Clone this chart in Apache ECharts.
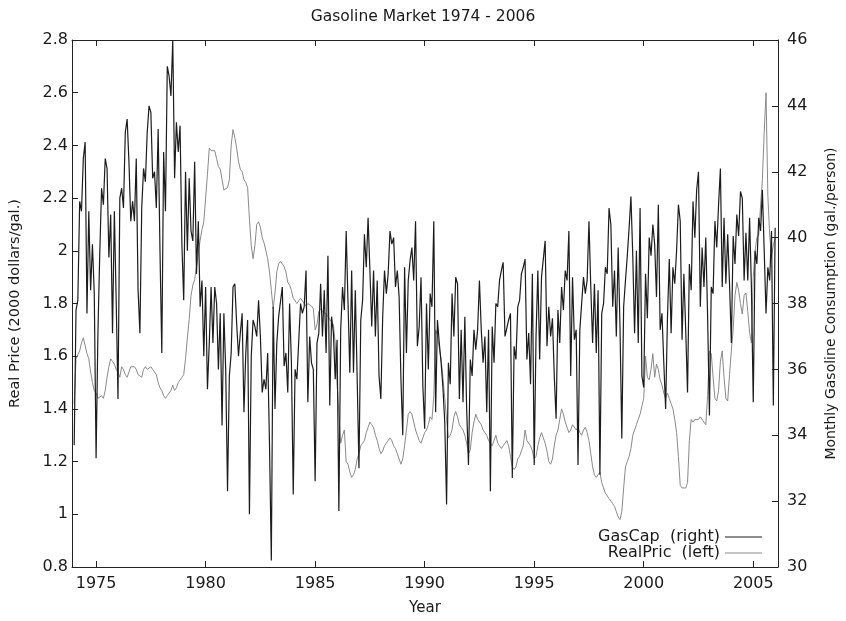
<!DOCTYPE html>
<html>
<head>
<meta charset="utf-8">
<title>Gasoline Market 1974 - 2006</title>
<script src="https://cdn.jsdelivr.net/npm/echarts@6/dist/echarts.min.js"></script>
<style>
html,body{margin:0;padding:0;background:#fff;}
#chart{width:846px;height:621px;}
</style>
</head>
<body>
<div id="chart"></div>
<script>
// monthly series, first value = Jan 1974
const startYear = 1974;
const yearTicks = [1975, 1980, 1985, 1990, 1995, 2000, 2005];
const legendNames = ['GasCap  (right)', 'RealPric  (left)'];

// GasCap (gal./person), right axis
const gasCap = [
  33.7, 37.8, 38.1, 41.1, 40.8, 42.4, 42.9, 37.7, 40.8, 38.4, 39.8, 38.3,
  33.3, 37.1, 39.5, 41.5, 41.0, 42.4, 42.1, 39.4, 40.7, 37.1, 40.8, 38.1,
  35.1, 41.2, 41.5, 40.9, 43.2, 43.6, 42.3, 40.5, 41.1, 40.5, 42.4, 38.4,
  37.1, 40.9, 42.1, 41.7, 43.2, 44.0, 43.8, 41.8, 42.0, 40.9, 43.3, 39.6,
  36.5, 42.6, 40.8, 45.2, 44.9, 44.3, 46.0, 41.8, 43.5, 42.6, 43.4, 39.8,
  38.1, 42.0, 39.6, 41.8, 40.2, 39.9, 42.3, 38.9, 40.5, 37.9, 38.7, 36.4,
  38.5, 35.4, 36.8, 38.5, 36.8, 38.5, 38.0, 36.0, 37.7, 34.3, 37.7, 36.0,
  32.3, 35.8, 36.5, 38.5, 38.6, 37.4, 36.4, 37.1, 37.7, 34.7, 36.5, 37.5,
  31.6, 36.4, 37.5, 37.3, 37.0, 38.1, 37.0, 35.3, 35.7, 35.4, 36.5, 33.7,
  30.2, 37.9, 34.8, 36.8, 37.6, 37.6, 38.5, 36.1, 36.5, 35.3, 38.0, 36.2,
  32.2, 36.0, 35.7, 35.7, 38.0, 37.7, 37.9, 39.0, 35.0, 37.0, 36.2, 36.0,
  32.6, 36.8, 37.1, 38.6, 37.0, 38.4, 36.5, 39.45, 34.9, 37.6, 37.1, 35.7,
  36.9, 31.7, 37.2, 38.5, 37.8, 40.2, 40.2, 35.9, 39.0, 35.9, 38.4, 35.8,
  33.0, 37.5, 38.1, 40.1, 39.1, 40.6, 39.0, 37.3, 39.0, 37.0, 38.7, 35.8,
  35.1, 37.6, 39.0, 38.3, 38.9, 40.2, 39.8, 40.0, 38.5, 39.0, 38.2, 35.7,
  34.0, 39.1, 36.5, 38.7, 39.3, 39.7, 38.7, 40.5, 36.7, 37.3, 38.8, 35.5,
  34.2, 38.0, 36.0, 38.3, 37.9, 40.5, 34.7, 37.5, 36.8, 36.2, 35.45, 34.4,
  31.9, 36.2, 35.55, 38.3, 37.0, 38.8, 38.6, 35.1, 37.2, 35.0, 37.6, 34.8,
  33.1, 36.3, 35.8, 37.2, 36.6, 37.2, 38.7, 37.2, 36.2, 37.0, 34.7, 37.2,
  32.3, 37.3, 36.2, 38.0, 37.9, 38.7, 39.0, 39.25, 37.0, 37.0, 37.5, 37.7,
  32.7, 36.7, 36.3, 37.9, 38.1, 38.9, 39.1, 39.35, 36.3, 37.1, 35.55, 38.9,
  33.1, 37.0, 39.0, 36.3, 38.8, 38.8, 39.9, 36.7, 37.9, 37.0, 37.55, 35.8,
  34.5, 37.8, 36.8, 38.5, 37.8, 39.0, 38.7, 40.2, 35.8, 38.8, 36.9, 37.2,
  33.1, 37.2, 37.2, 38.8, 38.3, 38.7, 40.5, 38.5, 36.8, 38.6, 36.5, 38.4,
  32.8, 37.7, 38.0, 39.1, 38.9, 40.9, 40.4, 37.9, 39.0, 37.0, 39.7, 37.3,
  33.9, 37.9, 38.7, 39.45, 40.3, 41.25, 39.45, 37.1, 39.6, 36.8, 40.9, 35.8,
  35.45, 38.9, 37.55, 40.0, 39.45, 40.4, 39.8, 38.2, 41.0, 37.2, 37.7, 36.2,
  34.8, 37.55, 39.35, 37.1, 39.1, 38.6, 39.6, 41.0, 40.5, 36.9, 38.9, 37.2,
  35.3, 39.2, 38.4, 41.1, 40.0, 41.45, 42.0, 37.9, 39.7, 38.5, 40.0, 37.6,
  34.6, 38.5, 38.3, 40.5, 39.7, 41.0, 42.1, 38.5, 40.6, 38.6, 40.1, 38.6,
  36.8, 40.05, 39.2, 40.7, 40.05, 41.4, 41.2, 38.7, 40.15, 38.7, 40.6, 38.5,
  35.0, 39.6, 39.2, 40.6, 40.2, 41.45, 39.6, 37.7, 39.1, 38.7, 40.2, 34.9,
  40.3
];

// RealPric (2000 dollars/gal.), left axis
const realPric = [
  1.42, 1.59, 1.59, 1.62, 1.65, 1.67, 1.64, 1.61, 1.59, 1.54, 1.50, 1.47,
  1.46, 1.44, 1.44, 1.45, 1.44, 1.47, 1.52, 1.56, 1.59, 1.58, 1.57, 1.55,
  1.54, 1.52, 1.56, 1.55, 1.53, 1.52, 1.54, 1.56, 1.56, 1.56, 1.55, 1.53,
  1.53, 1.52, 1.55, 1.56, 1.55, 1.55, 1.56, 1.56, 1.54, 1.53, 1.50, 1.48,
  1.47, 1.45, 1.44, 1.45, 1.46, 1.47, 1.49, 1.47, 1.48, 1.50, 1.50, 1.52,
  1.53, 1.59, 1.67, 1.74, 1.83, 1.87, 1.89, 1.94, 1.99, 2.04, 2.08, 2.11,
  2.20, 2.29, 2.39, 2.38, 2.38, 2.38, 2.35, 2.32, 2.31, 2.27, 2.23, 2.23,
  2.24, 2.27, 2.40, 2.46, 2.43, 2.39, 2.34, 2.31, 2.30, 2.27, 2.26, 2.24,
  2.12, 2.02, 1.97, 2.02, 2.10, 2.11, 2.09, 2.05, 2.03, 2.00, 1.97, 1.92,
  1.85, 1.78, 1.84, 1.92, 1.95, 1.96, 1.96, 1.94, 1.92, 1.88, 1.87, 1.85,
  1.82, 1.81, 1.80, 1.81, 1.82, 1.81, 1.80, 1.79, 1.80, 1.80, 1.79, 1.78,
  1.70, 1.72, 1.77, 1.78, 1.77, 1.77, 1.76, 1.75, 1.74, 1.73, 1.72, 1.65,
  1.50, 1.38, 1.27, 1.30, 1.32, 1.20, 1.19, 1.16, 1.14, 1.15, 1.17, 1.21,
  1.23, 1.26, 1.27, 1.28, 1.31, 1.33, 1.35, 1.34, 1.33, 1.30, 1.28, 1.25,
  1.23, 1.24, 1.26, 1.27, 1.28, 1.29, 1.28, 1.26, 1.25, 1.23, 1.21, 1.19,
  1.21, 1.26, 1.32, 1.38, 1.39, 1.38, 1.35, 1.32, 1.30, 1.28, 1.27, 1.29,
  1.31, 1.32, 1.34, 1.37, 1.36, 1.45, 1.70, 1.68, 1.63, 1.59, 1.52, 1.44,
  1.36, 1.29, 1.30, 1.32, 1.37, 1.39, 1.37, 1.34, 1.33, 1.32, 1.30, 1.27,
  1.23, 1.245, 1.31, 1.35, 1.38, 1.36, 1.35, 1.34, 1.32, 1.31, 1.30, 1.28,
  1.27, 1.26, 1.28, 1.30, 1.27, 1.26, 1.25, 1.26, 1.27, 1.28, 1.26, 1.22,
  1.18, 1.17, 1.18, 1.21, 1.22, 1.24, 1.26, 1.32, 1.28, 1.27, 1.26, 1.24,
  1.21, 1.22, 1.26, 1.29, 1.31, 1.29, 1.27, 1.24, 1.20, 1.19, 1.21, 1.26,
  1.30, 1.32, 1.36, 1.40, 1.38, 1.35, 1.33, 1.31, 1.32, 1.34, 1.34, 1.32,
  1.33, 1.31, 1.30, 1.32, 1.33, 1.31, 1.28, 1.23, 1.18, 1.15, 1.14, 1.15,
  1.16, 1.12, 1.10, 1.08, 1.07, 1.06, 1.05, 1.04, 1.03, 1.01, 0.99, 0.98,
  1.01, 1.10, 1.18, 1.20, 1.22, 1.25, 1.30, 1.32, 1.34, 1.36, 1.38, 1.41,
  1.44, 1.60, 1.52, 1.51, 1.55, 1.61, 1.52, 1.57, 1.55, 1.51, 1.49, 1.46,
  1.44, 1.46, 1.44, 1.42, 1.40, 1.36, 1.31, 1.22, 1.11, 1.10, 1.10, 1.10,
  1.12, 1.28, 1.36, 1.35, 1.36, 1.365, 1.36, 1.37, 1.37, 1.35, 1.34, 1.45,
  1.62, 1.61, 1.52, 1.44, 1.43, 1.47, 1.58, 1.62, 1.52, 1.44, 1.43, 1.53,
  1.62, 1.70, 1.83, 1.88, 1.85, 1.80, 1.76, 1.83, 1.84, 1.77, 1.69, 1.65,
  1.90, 2.00, 2.05, 2.06, 2.17, 2.27, 2.45, 2.60, 2.21, 2.06, 1.98, 2.02,
  2.05
];

;(function(W){
    const FONT = 'DejaVu Sans';
    const TXT = '#1a1a1a';
    const pair = (arr) => arr.map((v, i) => [startYear + i / 12, v]);

    let chart = echarts.init(document.getElementById('chart'), null, {renderer: 'canvas'});
    let axisLine = {show: true, lineStyle: {color: '#222', width: 1}};
    let tick = {show: true, inside: true, length: 6, lineStyle: {color: '#222'}};

    let option = {
        animation: false,
        backgroundColor: '#fff',
        textStyle: {fontFamily: FONT, color: TXT},
        title: {
            text: 'Gasoline Market 1974 - 2006',
            left: 'center', top: 4,
            textStyle: {fontFamily: FONT, fontSize: 15.5, fontWeight: 'normal', color: TXT}
        },
        grid: {left: 71, right: 63, top: 40, bottom: 53, containLabel: false},
        legend: {
            orient: 'vertical',
            right: 84, top: 529,
            padding: 0,
            align: 'right',
            itemWidth: 37, itemHeight: 1,
            itemGap: 0,
            icon: 'rect',
            textStyle: {fontFamily: FONT, fontSize: 16, color: TXT, padding: [0, 0, 0, 0]},
            data: legendNames
        },
        xAxis: [{
            type: 'value',
            min: 1973.9, max: 2006.13,
            name: 'Year', nameLocation: 'middle', nameGap: 34,
            nameTextStyle: {fontFamily: FONT, fontSize: 15, color: TXT},
            axisLine: axisLine,
            axisTick: Object.assign({customValues: yearTicks}, tick),
            axisLabel: {customValues: yearTicks, formatter: v => String(v),
                fontFamily: FONT, fontSize: 16, color: TXT, margin: 9},
            splitLine: {show: false}
        }, {
            // mirrored ticks along the top border
            type: 'value', position: 'top',
            min: 1973.9, max: 2006.13,
            axisLine: axisLine,
            axisTick: Object.assign({customValues: yearTicks}, tick),
            axisLabel: {show: false},
            splitLine: {show: false}
        }],
        yAxis: [{
            type: 'value', position: 'left',
            min: 0.8, max: 2.8, interval: 0.2,
            name: 'Real Price (2000 dollars/gal.)',
            nameLocation: 'middle', nameRotate: 90, nameGap: 49,
            nameTextStyle: {fontFamily: FONT, fontSize: 14.5, color: TXT},
            axisLine: axisLine, axisTick: tick,
            axisLabel: {fontFamily: FONT, fontSize: 16, color: TXT, margin: 4},
            splitLine: {show: false}
        }, {
            type: 'value', position: 'right',
            min: 30, max: 46, interval: 2,
            name: 'Monthly Gasoline Consumption (gal./person)',
            nameLocation: 'middle', nameRotate: 90, nameGap: 46,
            nameTextStyle: {fontFamily: FONT, fontSize: 14, color: TXT},
            axisLine: axisLine, axisTick: tick,
            axisLabel: {fontFamily: FONT, fontSize: 16, color: TXT, margin: 9},
            splitLine: {show: false}
        }],
        series: [{
            name: legendNames[0],
            type: 'line', yAxisIndex: 1,
            data: pair(gasCap),
            showSymbol: false, symbol: 'none',
            lineStyle: {color: '#1c1c1c', width: 1.2},
            itemStyle: {color: '#1c1c1c'},
            z: 3
        }, {
            name: legendNames[1],
            type: 'line', yAxisIndex: 0,
            data: pair(realPric),
            showSymbol: false, symbol: 'none',
            lineStyle: {color: '#8a8a8a', width: 1},
            itemStyle: {color: '#8a8a8a'},
            z: 2
        }]
    };
    chart.setOption(option);
    W.addEventListener('resize', () => chart.resize());
})(this);
</script>
</body>
</html>
